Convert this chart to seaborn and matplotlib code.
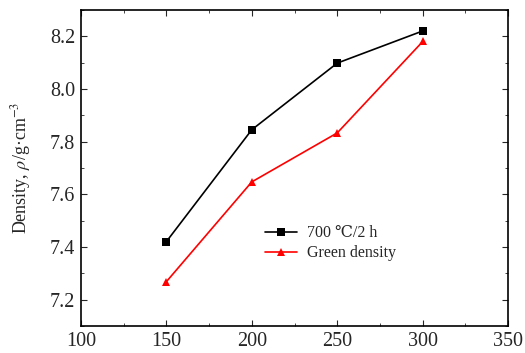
import pandas as pd
import matplotlib
matplotlib.use('Agg')
import matplotlib.pyplot as plt
import seaborn as sns
from matplotlib.ticker import MultipleLocator

# Данные
temperature = [150, 200, 250, 300]
density_sintered = [7.42, 7.845, 8.098, 8.22]
density_green = [7.268, 7.647, 7.833, 8.18]
series_names = ['700 \u2103/2 h', 'Green density']

sns.set_style('ticks')
plt.rcParams['font.family'] = ['Liberation Serif', 'DejaVu Serif']
plt.rcParams['mathtext.fontset'] = 'stix'

data = pd.concat([
    pd.DataFrame({'T': temperature, 'rho': density_sintered, 'series': series_names[0]}),
    pd.DataFrame({'T': temperature, 'rho': density_green, 'series': series_names[1]}),
])

fig = plt.figure(figsize=(5.25, 3.53), dpi=100)
ax = fig.add_axes([0.154, 0.0765, 0.814, 0.8955])

sns.lineplot(data=data, x='T', y='rho', hue='series', style='series',
             palette=['black', 'red'], markers=['s', '^'], dashes=False,
             markersize=5.5, linewidth=1.2, markeredgewidth=0, ax=ax)

ax.set_xlim(100, 350)
ax.set_ylim(7.1, 8.3)
ax.xaxis.set_major_locator(MultipleLocator(50))
ax.xaxis.set_minor_locator(MultipleLocator(25))
ax.yaxis.set_major_locator(MultipleLocator(0.2))
ax.yaxis.set_minor_locator(MultipleLocator(0.1))
ax.tick_params(which='both', direction='in', top=True, right=True, labelsize=14.5)
ax.tick_params(which='major', length=4, pad=4)
ax.tick_params(which='minor', length=2.5)
for s in ax.spines.values():
    s.set_linewidth(1.2)
    s.set_color('black')

ax.set_xlabel('')
ax.set_ylabel('Density, $\\rho$/g\u00b7cm$^{-3}$', fontsize=13, labelpad=12)

ax.legend(title=None, frameon=False, fontsize=11.5, loc='upper left',
          bbox_to_anchor=(0.431, 0.318), borderpad=0, borderaxespad=0,
          handlelength=2.0, handletextpad=0.6, labelspacing=0.25)

plt.savefig('out.png', dpi=100)
plt.close()
